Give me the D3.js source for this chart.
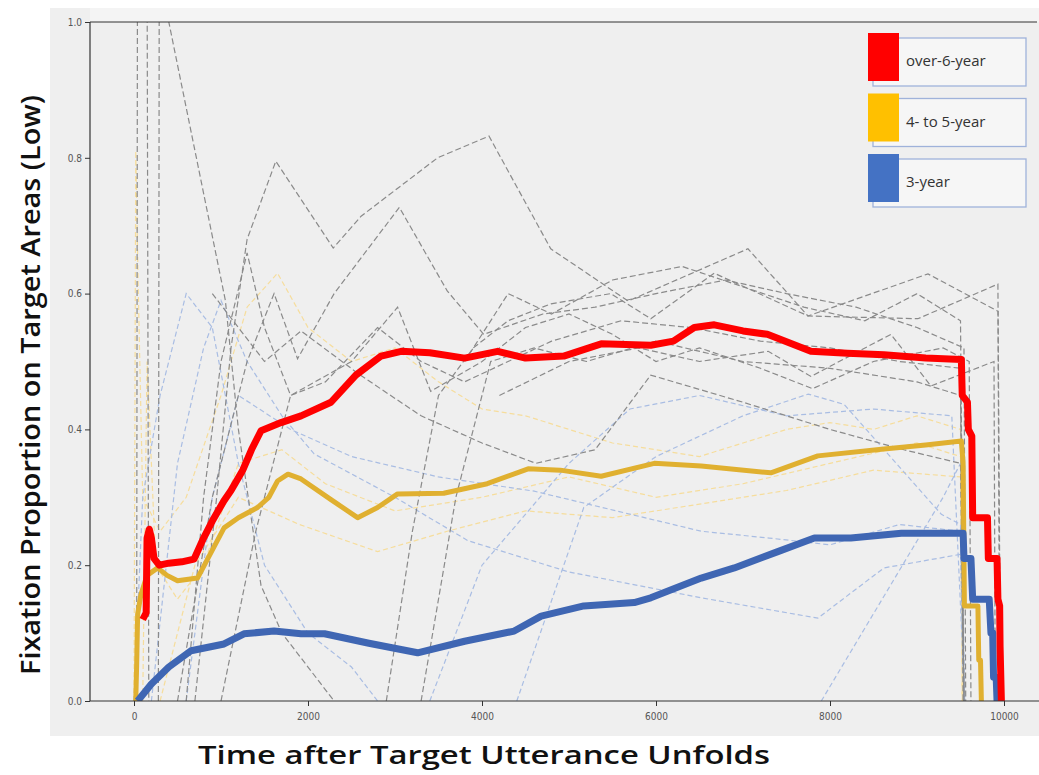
<!DOCTYPE html>
<html><head><meta charset="utf-8">
<script src="https://cdn.jsdelivr.net/npm/d3@7"></script>
<style>html,body{margin:0;padding:0;background:#fff;}svg{display:block;}</style>
</head><body>
<script>
// ---------- data ----------
const xTicks = [0, 2000, 4000, 6000, 8000, 10000];
const yTicks = [0.0, 0.2, 0.4, 0.6, 0.8, 1.0];
const legendLabels = ["over-6-year", "4- to 5-year", "3-year"];
const legendColors = ["#ff0000", "#ffc000", "#4472c4"];

const over6 = [[100,0.12],[140,0.13],[150,0.24],[176,0.253],[200,0.24],[230,0.21],[290,0.2],[400,0.203],[550,0.205],[690,0.209],[800,0.24],[900,0.265],[1034,0.295],[1115,0.31],[1250,0.34],[1350,0.37],[1460,0.398],[1690,0.41],[1920,0.42],[2264,0.44],[2550,0.48],[2840,0.508],[3070,0.515],[3400,0.513],[3800,0.505],[4180,0.515],[4500,0.505],[4940,0.508],[5370,0.526],[5940,0.524],[6200,0.53],[6440,0.55],[6670,0.554],[7000,0.545],[7280,0.54],[7780,0.515],[8200,0.512],[8620,0.51],[9100,0.505],[9510,0.503],[9520,0.45],[9580,0.44],[9590,0.4],[9630,0.39],[9640,0.27],[9810,0.27],[9820,0.21],[9920,0.21],[9930,0.15],[9950,0.14],[9955,0.08],[9970,0.0]];
const age45 = [[20,0],[30,0.05],[42,0.128],[80,0.157],[150,0.185],[272,0.196],[380,0.185],[500,0.177],[730,0.181],[850,0.21],[1035,0.255],[1200,0.27],[1420,0.285],[1550,0.3],[1650,0.324],[1770,0.334],[1920,0.327],[2260,0.297],[2570,0.27],[2800,0.285],[3030,0.305],[3560,0.306],[4060,0.32],[4530,0.342],[4900,0.34],[5370,0.331],[5980,0.35],[6520,0.346],[7320,0.336],[7860,0.361],[8620,0.371],[9100,0.377],[9510,0.383],[9530,0.35],[9545,0.14],[9700,0.14],[9710,0.06],[9730,0.06],[9740,0]];
const age3 = [[42,0],[200,0.025],[400,0.05],[655,0.074],[1035,0.084],[1264,0.099],[1610,0.103],[1920,0.099],[2190,0.099],[2700,0.085],[3260,0.071],[3800,0.088],[4370,0.103],[4680,0.125],[5170,0.14],[5750,0.145],[5940,0.152],[6520,0.181],[6900,0.196],[7400,0.22],[7820,0.24],[8240,0.24],[8820,0.247],[9530,0.247],[9540,0.21],[9620,0.21],[9640,0.15],[9830,0.15],[9850,0.10],[9870,0.10],[9880,0.035],[9910,0.035],[9920,0]];

// individual (faint dashed) traces
const grayA = [[700,0],[950,0.3],[1115,0.52],[1300,0.68],[1630,0.795],[2290,0.667],[2610,0.714],[3490,0.8],[4080,0.832],[4790,0.666],[5680,0.589],[7057,0.666],[7747,0.567],[9126,0.629],[9931,0.574],[9950,0]];
const grayB = [[2900,0],[3200,0.25],[3500,0.45],[3900,0.52],[4300,0.56],[4793,0.585],[5480,0.6],[5940,0.563],[6670,0.63],[7750,0.567],[9010,0.563],[9930,0.614],[9960,0]];
const grayC = [[500,0],[900,0.3],[1300,0.5],[1610,0.6],[1880,0.504],[2300,0.6],[3050,0.727],[3600,0.604],[4020,0.54],[4700,0.57],[5300,0.58],[6000,0.6],[6800,0.62],[7500,0.6],[8300,0.58],[9000,0.55],[9540,0.52],[9560,0]];
const grayD = [[1000,0],[1400,0.25],[1800,0.45],[2500,0.5],[3030,0.58],[3410,0.456],[4000,0.5],[4500,0.55],[5000,0.57],[5500,0.54],[6000,0.5],[6500,0.52],[7200,0.49],[7800,0.46],[8500,0.5],[9300,0.52],[9600,0.5],[9620,0]];
const grayE = [[900,0.6],[1500,0.5],[1920,0.545],[2600,0.48],[3300,0.42],[4000,0.38],[4620,0.35],[5300,0.37],[5940,0.48],[7000,0.44],[8000,0.4],[8850,0.37],[9500,0.35],[9540,0]];
const grayF = [[3300,0],[3700,0.3],[4100,0.5],[4600,0.52],[5200,0.5],[6000,0.53],[7000,0.5],[8000,0.49],[9000,0.47],[9500,0.45],[9540,0]];
const grayG = [[3800,0.5],[4300,0.6],[4800,0.57],[5500,0.62],[6300,0.64],[7000,0.61],[7700,0.58],[8400,0.56],[9000,0.6],[9500,0.56],[9540,0]];
const grayH = [[4200,0.45],[5000,0.5],[5800,0.52],[6500,0.5],[7290,0.515],[7780,0.478],[8700,0.54],[9160,0.464],[9885,0.5],[9900,0]];
const grayI = [[30,0],[40,1.1],[150,1.1],[170,0]];
const grayJ = [[280,0],[290,1.05],[400,1.0],[1050,0.59],[1200,0.4],[1460,0.17],[1700,0.1],[2000,0.05],[2300,0]];
const grayK = [[600,0],[800,0.3],[1000,0.5],[1300,0.66],[1500,0.55],[1800,0.45],[2200,0.47],[2800,0.55],[3300,0.5],[3800,0.47],[4300,0.5],[4800,0.53],[5600,0.56],[6400,0.55],[7200,0.53],[8000,0.52],[8800,0.5],[9500,0.49],[9530,0]];

const blueA = [[200,0],[500,0.35],[800,0.52],[1000,0.59],[1300,0.5],[1700,0.42],[2070,0.364],[3000,0.3],[3840,0.236],[5000,0.19],[6520,0.152],[7860,0.122],[8620,0.196],[9500,0.216],[9540,0]];
const blueB = [[600,0],[900,0.3],[1200,0.45],[1800,0.4],[2500,0.36],[3500,0.33],[4600,0.309],[6520,0.25],[7300,0.24],[8000,0.23],[8800,0.26],[9500,0.25],[9540,0]];
const blueC = [[4400,0],[5170,0.285],[6000,0.36],[7000,0.42],[7750,0.452],[8160,0.437],[9280,0.275],[9500,0.26],[9540,0]];
const blueD = [[3400,0],[4000,0.2],[5000,0.35],[5700,0.43],[6500,0.45],[7500,0.42],[8500,0.43],[9400,0.42],[9550,0]];
const blueE = [[0,0],[100,0.3],[300,0.45],[600,0.6],[900,0.55],[1200,0.35],[1500,0.2],[2000,0.1],[2500,0.05],[2800,0]];
const blueF = [[7900,0],[8600,0.15],[9300,0.3],[9500,0.35],[9550,0]];

const yellowA = [[0,0],[20,0.81],[50,0.6],[100,0.3],[300,0.25],[600,0.3],[1000,0.45],[1300,0.58],[1650,0.63],[2000,0.55],[2500,0.5],[3000,0.52],[3500,0.47],[4000,0.43],[4500,0.42],[5000,0.4],[5500,0.38],[6000,0.37],[6500,0.36],[7000,0.38],[7500,0.4],[8000,0.41],[8500,0.4],[9000,0.42],[9500,0.4],[9520,0]];
const yellowB = [[100,0],[150,0.5],[250,0.2],[500,0.15],[800,0.2],[1200,0.35],[1700,0.37],[2200,0.32],[3000,0.28],[4000,0.3],[5000,0.33],[6000,0.3],[7000,0.32],[8000,0.35],[9000,0.38],[9500,0.36],[9530,0]];
const yellowC = [[300,0],[700,0.2],[1200,0.3],[1900,0.26],[2800,0.22],[3600,0.25],[4500,0.28],[5500,0.27],[6500,0.29],[7500,0.31],[8500,0.34],[9500,0.33],[9520,0]];

// ---------- drawing ----------
const W = 1039, H = 775;
const svg = d3.select("body").append("svg").attr("width", W).attr("height", H);

const defs = svg.append("defs");
defs.append("clipPath").attr("id","plotclip").append("rect")
  .attr("x",90).attr("y",22).attr("width",W-90).attr("height",679);

svg.append("rect").attr("x",50).attr("y",8).attr("width",W-50).attr("height",728).attr("fill","#efefef");
svg.append("rect").attr("x",90).attr("y",8).attr("width",W-90).attr("height",14).attr("fill","#f4f4f4");

const x = d3.scaleLinear().domain([0,10000]).range([134,1004]);
const y = d3.scaleLinear().domain([0,1]).range([701,22]);

const line = d3.line().x(d=>x(d[0])).y(d=>y(d[1]));
const plot = svg.append("g").attr("clip-path","url(#plotclip)");

const faint = [
  {data:[yellowA,yellowB,yellowC], color:"#f6dd9c", w:1.2, dash:"5,3"},
  {data:[blueA,blueB,blueC,blueD,blueE,blueF], color:"#a9bde3", w:1.2, dash:"5,3"},
  {data:[grayA,grayB,grayC,grayD,grayE,grayF,grayG,grayH,grayI,grayJ,grayK], color:"#8a8a8a", w:1.2, dash:"6,3"}
];
faint.forEach(grp=>{
  grp.data.forEach(s=>{
    plot.append("path").attr("d",line(s)).attr("fill","none")
      .attr("stroke",grp.color).attr("stroke-width",grp.w).attr("stroke-dasharray",grp.dash);
  });
});

const mains = [
  {data:age45, color:"#e0b030", w:5},
  {data:age3, color:"#3f66b3", w:7},
  {data:over6, color:"#ff0000", w:7}
];
mains.forEach(m=>{
  plot.append("path").attr("d",line(m.data)).attr("fill","none")
    .attr("stroke",m.color).attr("stroke-width",m.w)
    .attr("stroke-linejoin","round").attr("stroke-linecap","butt");
});

// spines
const spine = svg.append("g").attr("stroke","#333").attr("stroke-width",1.2).attr("fill","none");
spine.append("line").attr("x1",90).attr("x2",90).attr("y1",22).attr("y2",701);
spine.append("line").attr("x1",90).attr("x2",W).attr("y1",701).attr("y2",701);
spine.append("line").attr("x1",90).attr("x2",1037).attr("y1",22).attr("y2",22);

// axes
const xAxis = d3.axisBottom(x).tickValues(xTicks).tickSize(5).tickFormat(d3.format("d"));
const gx = svg.append("g").attr("transform","translate(0,701)").call(xAxis);
gx.select(".domain").remove();
gx.selectAll("line").attr("stroke","#333");
gx.selectAll("text").attr("fill","#555").attr("font-size","10px")
  .attr("font-family","'DejaVu Sans Condensed','DejaVu Sans',sans-serif").attr("dy","1.1em");

const yAxis = d3.axisLeft(y).tickValues(yTicks).tickSize(5).tickFormat(d3.format(".1f"));
const gy = svg.append("g").attr("transform","translate(90,0)").call(yAxis);
gy.select(".domain").remove();
gy.selectAll("line").attr("stroke","#333");
gy.selectAll("text").attr("fill","#555").attr("font-size","10px")
  .attr("font-family","'DejaVu Sans Condensed','DejaVu Sans',sans-serif").attr("x",-8);

// axis titles
svg.append("text").attr("x",484).attr("y",764).attr("text-anchor","middle")
  .attr("font-family","'Open Sans','Noto Sans',sans-serif").attr("font-weight","600")
  .attr("font-size","25px").attr("fill","#111")
  .attr("textLength",572).attr("lengthAdjust","spacingAndGlyphs")
  .text("Time after Target Utterance Unfolds");
svg.append("text").attr("transform","translate(40,385) rotate(-90)").attr("text-anchor","middle")
  .attr("font-family","'Open Sans','Noto Sans',sans-serif").attr("font-weight","600")
  .attr("font-size","27px").attr("fill","#111")
  .attr("textLength",580).attr("lengthAdjust","spacingAndGlyphs")
  .text("Fixation Proportion on Target Areas (Low)");

// legend
const lg = svg.append("g");
legendLabels.forEach((lab,i)=>{
  const top = 38 + i*60.5;
  lg.append("rect").attr("x",873).attr("y",top).attr("width",153).attr("height",48)
    .attr("fill","#f6f6f6").attr("stroke","#9fb2da").attr("stroke-width",1.3);
  lg.append("rect").attr("x",868).attr("y",top-5).attr("width",31).attr("height",48)
    .attr("fill",legendColors[i]);
  lg.append("text").attr("x",906).attr("y",top+28).attr("font-size","15px")
    .attr("font-family","'Open Sans','Noto Sans',sans-serif").attr("fill","#333").text(lab);
});
</script>
</body></html>
